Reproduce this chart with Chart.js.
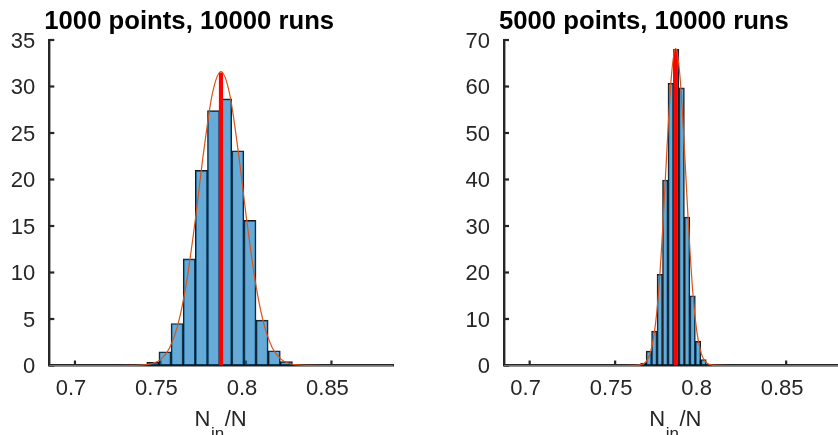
<!DOCTYPE html>
<html><head><meta charset="utf-8">
<script src="https://cdn.jsdelivr.net/npm/chart.js@4.4.1/dist/chart.umd.min.js"></script>
<style>
html,body{margin:0;padding:0;background:#fff;overflow:hidden;width:838px;height:435px;position:relative;}
#c1{position:absolute;left:0;top:0;}
#c2{position:absolute;left:420px;top:0;}
</style></head><body>
<canvas id="c1" width="420" height="435"></canvas>
<canvas id="c2" width="430" height="435"></canvas>
<script>
// ---- data ----
const titles = ['1000 points, 10000 runs', '5000 points, 10000 runs'];
const xLabelMain = 'N', xLabelSub = 'in', xLabelTail = '/N';
const xTicks = [0.7, 0.75, 0.8, 0.85];
const xTickLabels = ['0.7', '0.75', '0.8', '0.85'];
const xMin = 0.685, xMax = 0.886;
const yTicks1 = [0, 5, 10, 15, 20, 25, 30, 35];
const yTicks2 = [0, 10, 20, 30, 40, 50, 60, 70];

// left: 1000 points
const binCenters1 = [0.73845, 0.74555, 0.75265, 0.75975, 0.76685, 0.77395, 0.78105, 0.78815, 0.79525, 0.80235, 0.80945, 0.81655, 0.82365];
const density1   = [0.12, 0.34, 1.48, 4.52, 11.46, 20.98, 27.41, 28.67, 23.09, 15.61, 4.88, 1.59, 0.41];
const fitX1 = [0.685, 0.7254, 0.7354, 0.7404, 0.7454, 0.7504, 0.7554, 0.7604, 0.7654, 0.7704, 0.7754, 0.7804, 0.7854, 0.7904, 0.7954, 0.8004, 0.8054, 0.8104, 0.8154, 0.8204, 0.8254, 0.8304, 0.8354, 0.8454, 0.886];
const fitY1 = [0, 0, 0.01, 0.06, 0.22, 0.69, 1.92, 4.52, 9.1, 15.7, 23.15, 29.25, 31.6, 29.25, 23.15, 15.7, 9.1, 4.52, 1.92, 0.69, 0.22, 0.06, 0.01, 0, 0];
const meanX1 = 0.7854, meanTop1 = 31.5;

// right: 5000 points
const binCenters2 = [0.7665, 0.7697, 0.7729, 0.7761, 0.7793, 0.7825, 0.7857, 0.7889, 0.7921, 0.7953, 0.7985, 0.8017];
const density2   = [0.5, 3.1, 7.4, 19.6, 39.9, 60.7, 68.0, 59.7, 31.9, 15.0, 5.2, 1.3];
const fitX2 = [0.685, 0.7554, 0.7604, 0.7654, 0.7679, 0.7704, 0.7729, 0.7754, 0.7779, 0.7804, 0.7829, 0.7854, 0.7879, 0.7904, 0.7929, 0.7954, 0.7979, 0.8004, 0.8029, 0.8054, 0.8104, 0.8154, 0.886];
const fitY2 = [0, 0, 0.01, 0.20, 0.78, 2.55, 6.96, 15.82, 29.98, 47.33, 62.25, 68.2, 62.25, 47.33, 29.98, 15.82, 6.96, 2.55, 0.78, 0.20, 0.01, 0, 0];
const meanX2 = 0.7854, meanTop2 = 68.0;

// ---- styling / layout ----
const FONT = '"Liberation Sans", Arial, Helvetica, sans-serif';
const AX = '#262626';

const inTicks = {
  id: 'inTicks',
  beforeDatasetsDraw(chart) {
    const {ctx, chartArea: a, scales: {x, y}} = chart;
    ctx.save();
    ctx.strokeStyle = AX; ctx.lineWidth = 2.2;
    xTicks.forEach(v => {
      const px = x.getPixelForValue(v);
      ctx.beginPath(); ctx.moveTo(px, a.bottom); ctx.lineTo(px, a.bottom - 5); ctx.stroke();
    });
    y.ticks.forEach(t => {
      const py = y.getPixelForValue(t.value);
      ctx.beginPath(); ctx.moveTo(a.left, py); ctx.lineTo(a.left + 5, py); ctx.stroke();
    });
    ctx.restore();
  }
};

const texts = {
  id: 'texts',
  afterDraw(chart, args, opts) {
    const {ctx, chartArea: a} = chart;
    ctx.save();
    ctx.fillStyle = '#000';
    ctx.textAlign = 'left'; ctx.textBaseline = 'alphabetic';
    ctx.font = 'bold 25.7px ' + FONT;
    ctx.fillText(opts.title, a.left - 5, 28.5);
    // x axis label with subscript
    ctx.fillStyle = AX;
    const big = '22px ' + FONT, small = '17px ' + FONT;
    ctx.font = big; const w1 = ctx.measureText(xLabelMain).width; const w3 = ctx.measureText(xLabelTail).width;
    ctx.font = small; const w2 = ctx.measureText(xLabelSub).width;
    let sx = (a.left + a.right) / 2 - (w1 + w2 + w3) / 2 - 1;
    const by = 425.5;
    ctx.font = big; ctx.fillText(xLabelMain, sx, by); sx += w1 + 0.5;
    ctx.font = small; ctx.fillText(xLabelSub, sx, by + 13); sx += w2 + 0.5;
    ctx.font = big; ctx.fillText(xLabelTail, sx, by);
    ctx.restore();
  }
};

function makeChart(id, centers, dens, fx, fy, mx, mTop, yTicks, title, padL, padR, yW) {
  const yMax = yTicks[yTicks.length - 1];
  return new Chart(document.getElementById(id), {
    type: 'bar',
    data: {
      datasets: [
        {
          type: 'line', order: 1,
          data: fx.map((v, i) => ({x: v, y: fy[i]})),
          borderColor: '#D95319', borderWidth: 1.2, pointRadius: 0,
          cubicInterpolationMode: 'monotone', fill: false, clip: false
        },
        {
          type: 'line', order: 2,
          data: [{x: mx, y: 0}, {x: mx, y: mTop}],
          borderColor: '#FF0000', borderWidth: 4.2, pointRadius: 0, fill: false,
          borderCapStyle: 'butt'
        },
        {
          type: 'bar', order: 3,
          data: centers.map((v, i) => ({x: v, y: dens[i]})),
          backgroundColor: 'rgba(0,114,189,0.6)',
          borderColor: 'rgba(0,0,0,0.9)', borderWidth: 1, borderSkipped: false,
          barPercentage: 1, categoryPercentage: 1
        }
      ]
    },
    options: {
      responsive: false, animation: false,
      layout: {padding: {left: padL, right: padR, top: 40, bottom: 0}},
      plugins: {legend: {display: false}, tooltip: {enabled: false}, title: {display: false},
                texts: {title: title}},
      scales: {
        x: {
          type: 'linear', min: xMin, max: xMax, offset: false,
          grid: {display: false, drawTicks: false},
          border: {display: true, color: AX, width: 2.4},
          afterBuildTicks: s => { s.ticks = xTicks.map(v => ({value: v})); },
          afterFit: s => { s.height = 69.5; },
          ticks: {color: AX, font: {family: FONT, size: 22}, padding: 10, maxRotation: 0, autoSkip: false,
                  labelOffset: -4, callback: (v, i) => xTickLabels[i]}
        },
        y: {
          type: 'linear', min: 0, max: yMax,
          grid: {display: false, drawTicks: false},
          border: {display: true, color: AX, width: 2.4},
          afterBuildTicks: s => { s.ticks = yTicks.map(v => ({value: v})); },
          afterFit: s => { s.width = yW; },
          ticks: {color: AX, font: {family: FONT, size: 22}, padding: 14, autoSkip: false,
                  labelOffset: 1.5, callback: v => String(v)}
        }
      }
    },
    plugins: [inTicks, texts]
  });
}

makeChart('c1', binCenters1, density1, fitX1, fitY1, meanX1, meanTop1, yTicks1, titles[0], 0, 27, 49.3);
makeChart('c2', binCenters2, density2, fitX2, fitY2, meanX2, meanTop2, yTicks2, titles[1], 0, 2.3, 84);
</script>
</body></html>
